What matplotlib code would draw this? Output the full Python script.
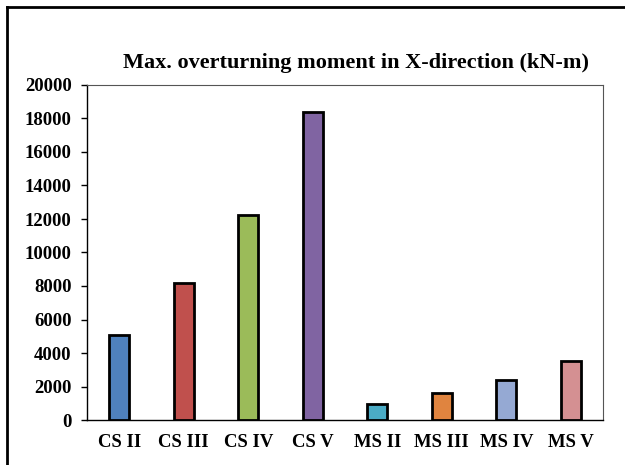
import matplotlib.pyplot as plt
from matplotlib.lines import Line2D

categories = ['CS II', 'CS III', 'CS IV', 'CS V', 'MS II', 'MS III', 'MS IV', 'MS V']
moments = [5100, 8150, 12250, 18400, 950, 1600, 2400, 3550]
colors = ['#4F81BD', '#C0504D', '#9BBB59', '#8064A2',
          '#4BACC6', '#E0843F', '#95A9D3', '#D49092']
yticks = list(range(0, 20001, 2000))

plt.rcParams['font.family'] = ['Liberation Serif', 'DejaVu Serif']
plt.rcParams['font.weight'] = 'bold'

fig = plt.figure(figsize=(6.25, 4.65), dpi=100)
ax = fig.add_axes([87 / 625, 1 - 420 / 465, 516 / 625, 335 / 465])

x = range(len(categories))
ax.bar(x, moments, width=0.31, color=colors, edgecolor='black', linewidth=2.0, zorder=3)

ax.set_xlim(-0.5, len(categories) - 0.5)
ax.set_ylim(0, 20000)
ax.set_yticks(yticks)
ax.set_yticklabels([str(v) for v in yticks], fontsize=13.5, fontweight='bold')
ax.set_xticks(list(x))
ax.set_xticklabels(categories, fontsize=13.5, fontweight='bold')
ax.tick_params(axis='x', length=0, pad=10)
ax.tick_params(axis='y', length=4, width=1, direction='out', pad=7)

for side in ['left', 'bottom']:
    ax.spines[side].set_color('black')
    ax.spines[side].set_linewidth(1.0)
for side in ['top', 'right']:
    ax.spines[side].set_color('#555555')
    ax.spines[side].set_linewidth(0.8)

fig.text(356 / 625, 1 - 63 / 465, 'Max. overturning moment in X-direction (kN-m)',
         ha='center', va='center', fontsize=16, fontweight='bold')

# outer frame of the chart area (only top and left edges show)
fig.add_artist(Line2D([7 / 625, 1], [1 - 7 / 465, 1 - 7 / 465], color='black',
                      linewidth=2, transform=fig.transFigure))
fig.add_artist(Line2D([7 / 625, 7 / 625], [0, 1 - 7 / 465], color='black',
                      linewidth=2, transform=fig.transFigure))

fig.savefig('out.png', dpi=100)
